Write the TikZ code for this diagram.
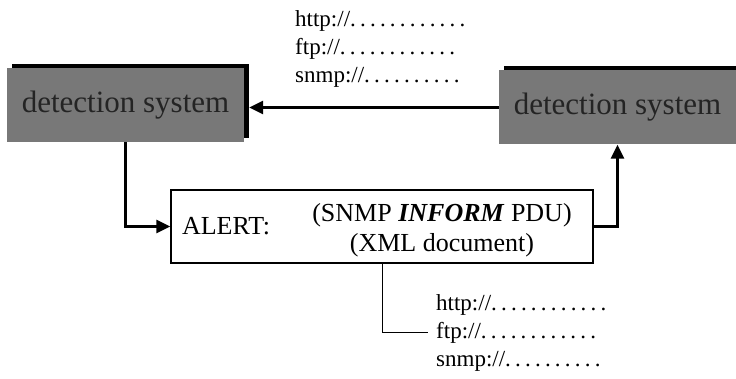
\documentclass[tikz,border=0pt]{standalone}
\usepackage{fontspec}
\setmainfont{Liberation Serif}
\usetikzlibrary{arrows.meta,shadows}
\definecolor{DetGray}{gray}{0.47}
\definecolor{DetText}{gray}{0.14}
% a row of spaced dots after a link
\newcommand\urldots[1]{\foreach\d in {1,...,#1}{.\kern4.2pt}}
\tikzset{
  detbox/.style={fill=DetGray, text=DetText, minimum width=237pt, minimum height=74pt, inner sep=0pt, font=\fontsize{31}{34}\selectfont, general shadow={fill=black, shadow xshift=5pt, shadow yshift=4pt}},
  alertbox/.style={draw=black, line width=1.2pt, fill=white, text width=400pt, inner xsep=11pt, minimum height=73pt, align=left, font=\fontsize{26}{30}\selectfont},
  pdutext/.style={align=center, inner sep=0pt, font=\fontsize{26}{30}\selectfont},
  urltext/.style={anchor=base west, inner sep=0pt, font=\fontsize{23}{28}\selectfont},
  arr/.style={-{Triangle[length=14pt,width=13pt]}, line width=2.5pt},
  tline/.style={line width=1pt}
}
\begin{document}
\begin{tikzpicture}[x=1pt,y=-1pt]
\useasboundingbox (0,0) rectangle (736,379);
\clip (0,0) rectangle (736,379);
% the two detection systems
\node[detbox] (det1) at (125.5,105) {detection system};
\node[detbox] (det2) at (617.5,107.5) {detection system};
% alert message
\node[alertbox] (alert) at (382,226.5) {ALERT:};
\node[pdutext] (pdu) at (442,230) {(SNMP \textbf{\textit{INFORM}} PDU)\\(XML document)};
% links sent back
\node[urltext] (http1) at (295,27) {http://\urldots{12}};
\node[urltext] (ftp1) at (295,55) {ftp://\urldots{12}};
\node[urltext] (snmp1) at (295,83) {snmp://\urldots{10}};
% links attached to the alert
\node[urltext] (http2) at (436,310) {http://\urldots{12}};
\node[urltext] (ftp2) at (436,338) {ftp://\urldots{12}};
\node[urltext] (snmp2) at (436,366) {snmp://\urldots{10}};
\draw[arr] (det2.west) -- ([xshift=5pt]det1.east |- det2.west);
\draw[arr] (det1.south) |- (alert.west);
\draw[arr] (alert.east) -| (det2.south);
\draw[tline] (alert.south) |- ([xshift=-8pt]ftp2.west);
\end{tikzpicture}
\end{document}
